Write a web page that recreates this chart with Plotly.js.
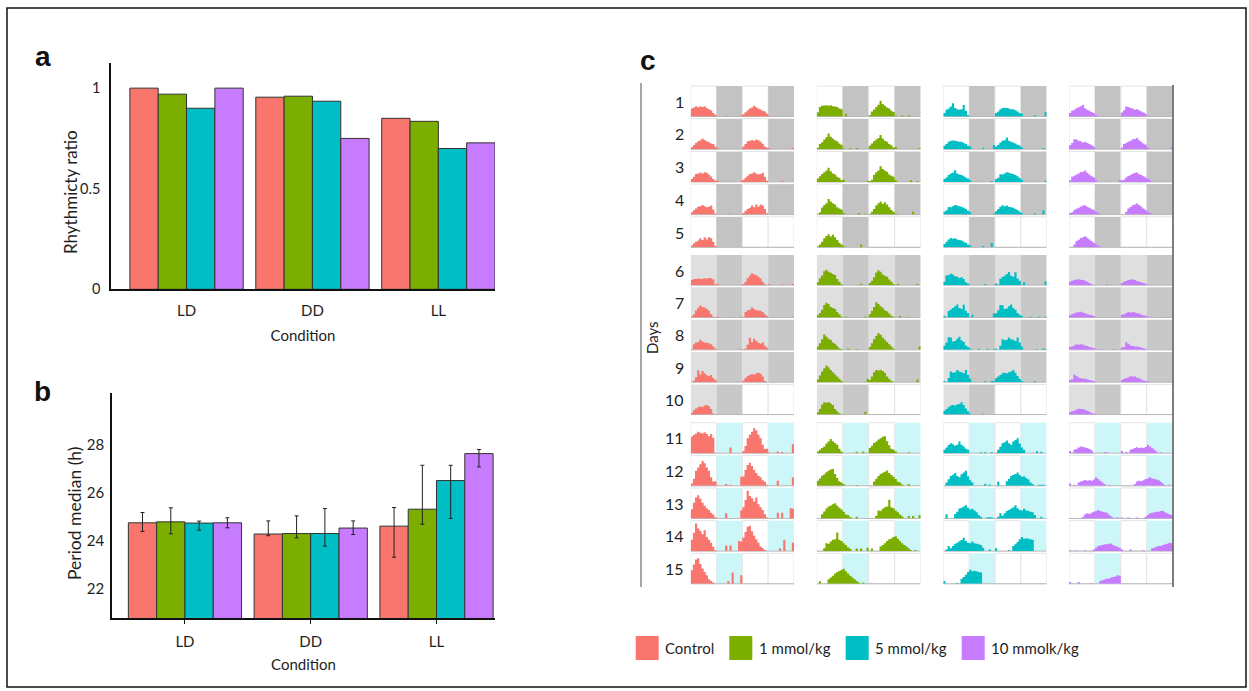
<!DOCTYPE html>
<html><head><meta charset="utf-8">
<script src="https://cdn.plot.ly/plotly-3.0.1.min.js"></script>
<style>html,body{margin:0;padding:0;background:#fff}#chart{width:1249px;height:691px}</style>
</head><body><div id="chart"></div>
<script>
const groups = ['Control','1 mmol/kg','5 mmol/kg','10 mmolk/kg'];
const groupColors = ['#F8766D','#7CAE00','#00BFC4','#C77CFF'];
const conditions = ['LD','DD','LL'];

// panel a: rhythmicity ratio
const rhythmControl = [1.00, 0.955, 0.85];
const rhythm1 = [0.97, 0.96, 0.835];
const rhythm5 = [0.90, 0.935, 0.70];
const rhythm10 = [1.00, 0.75, 0.728];

// panel b: period median (h) with error bars
const periodControl = [24.75, 24.28, 24.61];
const period1 = [24.79, 24.30, 25.32];
const period5 = [24.74, 24.30, 26.52];
const period10 = [24.75, 24.53, 27.65];
const errUpControl = [0.43, 0.55, 0.78];
const errUp1 = [0.59, 0.74, 1.84];
const errUp5 = [0.08, 1.05, 0.64];
const errUp10 = [0.21, 0.30, 0.17];
const errDownControl = [0.36, 0.07, 1.30];
const errDown1 = [0.50, 0.18, 0.63];
const errDown5 = [0.30, 0.53, 1.59];
const errDown10 = [0.21, 0.27, 0.56];

// panel c: hourly activity per day (days 1-5 LD, 6-10 DD, 11-15 LL)
const dayNumbers = [1,2,3,4,5,6,7,8,9,10,11,12,13,14,15];
const blockConditions = ['LD','DD','LL'];
const actControl = [
 [2.8,3.2,3.6,3.3,3.5,3.4,3.6,3.0,2.6,2.2,1.2,0.6, 0,0,0,0,0.3,0,0,0,0,0,0,0.4],
 [0.8,1.5,2.2,2.8,3.2,3.8,3.3,2.8,2.5,2.0,1.8,1.0, 0.3,0,0,0,0,0,0,0,0,0,0,0],
 [1.0,1.8,2.8,3.0,3.3,3.0,3.4,3.2,2.6,1.9,1.0,0.5, 0.4,0,0,0,0,0,0,0,0,0,0,0.4],
 [0.8,1.5,2.2,2.8,3.0,3.4,3.0,2.6,2.8,3.2,1.8,0.4, 0,0,0,0,0,0,0.4,0,0,0,0,0],
 [0.6,1.4,2.0,2.4,3.2,2.6,3.6,2.8,3.6,3.2,2.0,0.5, 0,0,0,0,0,0,0,0,0,0,0,0],
 [1.8,2.2,2.2,2.4,2.3,2.2,2.5,2.3,2.6,2.5,2.0,0.2, 0.6,0,0,0,0,0,0,0,0,0,0,0],
 [0.4,1.2,2.5,3.5,4.3,3.8,3.6,3.0,2.4,1.2,0.3,0, 0.4,0,0,0,0,0,0.3,0,0,0,0,0.4],
 [0.2,2.0,2.6,2.8,3.6,3.0,2.6,2.5,2.4,2.0,1.2,0.5, 0,0,0,0,0,0,0,0,0,0,0,0.3],
 [0,0.5,1.8,4.3,2.8,4.0,3.2,2.5,2.2,2.6,1.5,0.8, 0,0,0,0,0,0,0,0,0,0,0,0],
 [0.6,1.5,2.2,2.6,2.9,2.7,3.2,3.4,3.0,2.0,0.4,0, 0,0,0,0,0,0,0,0,0,0,0,0],
 [5.8,6.5,7.0,7.6,7.2,7.0,7.4,6.8,6.0,6.8,5.5,0, 0,0,0,0,0,0,2.0,0,0,0,0,0],
 [0.8,2.5,5.3,6.5,7.6,8.8,8.0,6.5,5.3,3.0,1.5,1.6, 0.2,0,0,0,0.6,0,0.4,0,0,0,0,3.2],
 [3.3,5.6,7.4,8.2,7.0,5.6,4.5,3.6,3.0,2.0,1.4,0.4, 0,0,0,0,1.8,0,0,0,0,0,0,2.9],
 [4.0,6.5,9.8,8.0,7.2,6.0,7.4,5.0,4.0,3.0,1.5,0.3, 0,0,0,0,2.0,0,2.0,0,0,0,3.6,3.4],
 [4.8,6.8,8.6,9.0,7.0,5.4,4.2,3.0,1.6,1.0,0.4,0, 0,0,0,0,0,1.0,0,4.0,0,0,0,3.0]
];
const act1 = [
 [1.5,3.4,3.8,3.9,4.0,3.8,4.0,3.6,3.5,3.4,2.8,2.6, 0,1.0,0,0,0,0,0,0,0,0,0,0],
 [0.5,1.8,2.5,3.4,4.2,5.6,4.4,3.8,3.2,2.8,2.0,1.6, 0.3,0,0,0.4,0,0,0.4,0,0,0,0,0],
 [1.2,2.0,2.8,3.4,4.0,5.0,3.8,3.0,2.6,1.8,1.4,0.6, 0.8,0,0,0,0,0,0,0,0,0,0,0.4],
 [0.3,0.8,2.5,3.4,4.0,5.5,4.6,4.0,3.6,2.6,2.2,1.8, 0.6,0,0,0,0,0,0,0.6,0,0,0.3,0],
 [0.3,1.0,2.0,3.2,4.0,4.6,3.8,4.4,3.6,2.6,1.6,1.0, 0.4,0,0,0,0,0,0,0,1.0,0,0,0],
 [1.0,2.5,3.5,5.0,5.5,4.8,4.4,4.0,3.6,2.2,1.2,0.3, 0,0,0,0,0,0,0,0,0.5,0,0,0],
 [0.8,1.6,2.8,4.5,5.3,4.8,3.8,3.4,3.0,2.0,1.2,0.4, 0,0.4,0,0,0,0,0,0,0,0,0.4,0],
 [1.2,2.4,3.8,5.5,4.8,4.0,3.5,2.6,2.2,1.4,0.6,0.3, 0,0,0.5,0,0,0,0.3,0,0,0,0,0],
 [1.0,2.4,3.8,5.0,6.0,5.4,4.4,3.6,2.8,2.0,1.2,0.5, 0,0,0,0,0,0,0,0,0,0,0,1.2],
 [0.8,2.0,3.6,4.4,4.2,4.5,4.0,3.4,2.0,1.2,0.5,0.2, 0,0,0,0,0,0,0,0,0,0,1.0,0],
 [0.6,1.2,1.8,2.4,3.4,4.1,5.0,4.2,3.6,3.0,1.6,0.6, 0,0,0,0,0,0,0.5,0,0,0.6,0,0],
 [1.8,2.6,3.6,4.1,4.8,5.3,5.8,6.0,4.2,2.8,1.6,1.2, 0.6,0,0,0,0,0,0.3,0,0,0,0,0],
 [0,0,1.5,2.5,3.5,4.2,4.6,5.0,5.4,4.5,3.8,3.2, 2.4,1.4,1.2,0.5,0,0,0.6,0,0,0,0,0],
 [0,0,0,1.0,2.8,2.6,3.4,4.0,4.2,6.6,4.0,3.6, 2.8,2.2,1.4,0.8,0,0,0.9,0,0.9,0,0,1.2],
 [0,0.9,0,0,0,1.6,2.2,2.8,3.6,4.2,4.5,5.0, 5.3,4.4,3.6,2.8,2.2,1.6,1.0,0.4,0,0.4,0,0]
];
const act5 = [
 [1.2,2.4,2.8,3.5,4.7,3.0,2.6,2.4,2.6,4.1,2.0,0.5, 0,0,0,0,0,0,0,0,0,0,0,0],
 [1.2,1.8,2.6,3.0,3.1,3.0,2.8,2.6,2.6,2.2,1.8,1.2, 1.0,0,0,0,0,0,0.5,0,0,0,0,1.5],
 [1.0,1.6,2.4,3.0,3.2,4.1,3.0,2.6,2.4,2.0,1.6,1.2, 0.6,0,0,0,0,0,0,0,0,0,0.3,0],
 [1.0,1.5,2.7,2.6,3.0,3.4,3.2,3.0,2.8,2.4,2.0,1.4, 0.8,0,0,0,0,0,0,0,0,0,0,0.4],
 [1.2,2.0,2.8,3.3,3.0,3.2,2.8,2.6,2.4,2.0,1.6,1.0, 0.6,0,0,0,0,0,0.5,0,0,0,1.5,0],
 [1.2,3.5,3.6,4.1,3.8,3.2,3.0,2.6,2.8,2.2,1.0,0.6, 0,0,0,0,0,0,0,0.3,0,0,0,0],
 [0.6,0.2,2.3,2.9,3.4,4.0,4.7,3.4,3.0,4.6,2.4,1.6, 0,1.0,0,0,0,0,0,0,0,0,0,1.4],
 [1.5,2.6,4.5,4.4,3.0,3.2,4.0,4.7,3.4,2.8,1.6,1.0, 0.5,0,0,0,0.4,0,0,0,0.4,0,0,0.4],
 [0.4,0,1.5,3.8,3.4,3.6,4.4,3.8,3.6,3.2,4.4,2.6, 1.2,0,0,0,0,0,0,0.3,0,0,0.5,0.3],
 [1.4,2.0,2.6,3.2,3.4,3.2,3.6,3.8,4.4,3.4,2.2,1.2, 0.4,0,0,0,0,0,0.3,0,0,0,0,0],
 [1.2,2.0,2.9,3.5,3.2,2.6,3.0,4.1,3.0,2.4,1.6,1.2, 0,0,0,0,0,0.3,0,0.3,0,0,0.3,0],
 [0,1.2,2.3,3.5,3.9,4.5,3.5,3.0,4.1,4.7,5.3,3.4, 2.0,1.2,0,0,0,0,0,0.7,0,0.5,0,0],
 [0,1.5,0,0,0,1.6,2.4,3.5,3.8,4.2,4.7,3.8, 3.2,3.4,2.8,2.2,1.2,0.6,0,0,0.4,0.4,0.4,0],
 [0,0.6,1.8,1.0,1.8,2.6,3.0,3.5,3.9,4.7,3.6,3.0, 2.8,3.4,2.8,2.6,2.4,2.2,1.2,0,0,0.6,0,0],
 [1.0,0,0,0,0,0,0.3,0,1.8,2.4,3.2,4.2, 5.0,4.4,4.6,4.4,4.2,4.0,0,0,0,0,0,0]
];
const act10 = [
 [1.2,2.0,2.4,2.9,3.3,3.6,4.1,2.9,2.4,2.0,1.6,1.2, 0.6,0.3,0,0,0,0,0,0,0,0,0,0],
 [1.4,2.2,3.5,3.4,3.0,2.8,2.4,2.6,2.2,1.8,1.4,1.0, 0,0,0,0,0,0,0,0,0,0,0,0],
 [0.6,1.8,2.2,2.6,3.0,3.5,3.6,4.0,3.2,2.6,2.0,1.6, 0.6,0,0,0,0,0,0,0,0,0,0,0.8],
 [0.6,0.8,1.6,2.1,2.4,2.9,3.2,3.3,2.8,2.4,2.0,1.6, 1.0,0.6,0,0,0,0,0,0,0,0,0,0],
 [0,0,1.0,2.2,2.7,3.3,3.6,3.9,3.4,2.8,2.2,1.6, 1.0,0.6,0.3,0,0,0,0,0,0,0,0,0],
 [1.2,1.6,1.8,2.0,2.1,1.9,1.8,1.6,1.2,0.8,0.4,0, 0,0,0,0,0,0.3,0,0,0,0,0,0],
 [0.8,1.2,1.5,1.8,1.9,2.1,1.8,1.5,1.2,1.0,0.8,0.5, 0,0,0,0,0,0,0,0,0,0,0,0],
 [1.0,1.2,1.6,2.0,1.8,2.0,1.8,1.5,1.4,1.0,0.8,0.6, 0.4,0,0.3,0,0,0,0,0,0.3,0,0,0],
 [0.8,1.0,2.7,2.2,1.6,1.4,1.2,1.2,1.0,0.8,0.6,0.4, 0,0,0,0,0,0,0,0,0,0,0,0],
 [0.8,1.2,1.4,1.8,2.1,2.0,2.0,1.6,1.4,1.0,0.6,0.4, 0.3,0,0,0,0,0,0,0,0,0,0,0],
 [0.8,0,1.2,1.5,2.0,2.4,2.2,2.0,1.8,1.5,1.0,0, 0,0,0,0,0.3,0.3,0,0,0,0,0,0],
 [0.8,0,0.4,0,1.2,1.5,1.8,2.1,1.8,2.0,1.8,2.2, 3.0,2.4,1.8,1.2,0.6,0,0.3,0,0,0,0,0],
 [0,0,0,0,0,0,0.6,1.5,1.8,1.6,2.0,2.4, 2.6,3.0,2.6,2.4,2.2,2.0,1.4,0.8,0.3,0,0.4,0],
 [0.3,0,0,0.3,0,0,0,0.3,0,0,0,0.6, 1.2,1.8,2.0,2.2,2.4,2.4,2.6,2.7,2.2,1.8,1.5,1.2],
 [0.6,0,0,0,0.6,0,0,0,0,0,0.3,0, 0,0,1.0,1.2,1.5,1.8,1.8,2.2,2.4,2.6,3.0,2.8]
];

const rhythmAll = [rhythmControl, rhythm1, rhythm5, rhythm10];
const periodAll = [periodControl, period1, period5, period10];
const errUpAll = [errUpControl, errUp1, errUp5, errUp10];
const errDownAll = [errDownControl, errDown1, errDown5, errDown10];
const actAll = [actControl, act1, act5, act10];

// ---- geometry / styles ----
const W = 1249, H = 691;
const P = v => v / W, Q = v => 1 - v / H;
const FONT = 'Lato, "Open Sans", sans-serif';
const TXT = '#1e1e1e';
const lightFill = {LD:'#ffffff', DD:'#dfdfdf', LL:'#ffffff'};
const darkFill = {LD:'#c3c3c3', DD:'#c8c8c8', LL:'#cdf6f9'};
const groupXpx = [[690.7,794],[816.7,920.7],[943.3,1046.7],[1069,1172.7]];
const blockTop = [86, 255, 422.7], blockPitch = [32.7, 32.35, 32.65], rowGap = 2.2;

const traces = [];
const layout = {
  width: W, height: H, margin: {l:0,r:0,t:0,b:0},
  paper_bgcolor:'#ffffff', plot_bgcolor:'rgba(0,0,0,0)',
  showlegend:false, hovermode:false,
  barmode:'group', bargap:0.1, bargroupgap:0,
  font:{family:FONT, size:15, color:TXT},
  shapes:[], annotations:[]
};

// panel a
groups.forEach((g,i)=>{
  traces.push({type:'bar', x:conditions, y:rhythmAll[i], name:g, xaxis:'x', yaxis:'y',
    marker:{color:groupColors[i], line:{color:'#333', width:1}}});
});
// panel b
groups.forEach((g,i)=>{
  traces.push({type:'bar', x:conditions, y:periodAll[i], name:g, xaxis:'x2', yaxis:'y2',
    marker:{color:groupColors[i], line:{color:'#333', width:1}},
    error_y:{type:'data', symmetric:false, array:errUpAll[i], arrayminus:errDownAll[i],
      color:'#222', thickness:1, width:2}});
});

const axBase = {showgrid:false, zeroline:false, showline:true, linecolor:'#111', linewidth:1.8,
  fixedrange:true, tickfont:{family:FONT, size:15, color:TXT}};
layout.xaxis = Object.assign({}, axBase, {domain:[P(111),P(495)], anchor:'y', range:[-0.6,2.45],
  ticks:'outside', ticklen:7, tickcolor:'rgba(0,0,0,0)',
  title:{text:'Condition', font:{family:FONT,size:15,color:TXT}, standoff:12}});
layout.yaxis = Object.assign({}, axBase, {domain:[Q(289.3),Q(63)], anchor:'x', range:[0,1.125],
  tickvals:[0,0.5,1], ticktext:['0','0.5','1'], ticks:'outside', ticklen:6, tickcolor:'rgba(0,0,0,0)',
  tickfont:{family:FONT, size:14.5, color:TXT}});
layout.xaxis2 = Object.assign({}, axBase, {domain:[P(112),P(495)], anchor:'y2', range:[-0.58,2.465],
  ticks:'outside', ticklen:4, tickcolor:'#111', tickwidth:1, ticklabelstandoff:5,
  title:{text:'Condition', font:{family:FONT,size:15,color:TXT}, standoff:10}});
layout.yaxis2 = Object.assign({}, axBase, {domain:[Q(618.3),Q(392.7)], anchor:'x2', range:[20.75,30.2],
  tickvals:[22,24,26,28], ticks:'outside', ticklen:3, tickcolor:'rgba(0,0,0,0)'});

// y titles as rotated text
layout.annotations.push({text:'Rhythmicty ratio', xref:'paper', yref:'paper', x:P(70), y:Q(192),
  xanchor:'center', yanchor:'middle', textangle:-90, showarrow:false, font:{family:FONT,size:17,color:TXT}});
layout.annotations.push({text:'Period median (h)', xref:'paper', yref:'paper', x:P(74), y:Q(514),
  xanchor:'center', yanchor:'middle', textangle:-90, showarrow:false, font:{family:FONT,size:17.5,color:TXT}});

// panel c axes
for (let g=0; g<4; g++) {
  layout['xaxis'+(3+g)] = {domain:[P(groupXpx[g][0]),P(groupXpx[g][1])], range:[0,48], visible:false,
    fixedrange:true, anchor:'y3'};
}
for (let i=0; i<15; i++) {
  const b = Math.floor(i/5), p = i%5;
  const top = blockTop[b] + p*blockPitch[b];
  const bot = top + blockPitch[b] - rowGap;
  layout['yaxis'+(3+i)] = {domain:[Q(bot),Q(top)], range:[0,10.8], visible:false, fixedrange:true, anchor:'x3'};
}

const hourEdges = Array.from({length:24}, (_,h)=>h);
for (let g=0; g<4; g++) {
  const xa = 'x'+(3+g);
  for (let i=0; i<15; i++) {
    const b = Math.floor(i/5), p = i%5;
    const cond = blockConditions[b];
    const ya = 'y'+(3+i);
    const hasRight = p < 4;
    let xs = hourEdges.slice(), ys = actAll[g][i].slice();
    if (hasRight) { xs = xs.concat(hourEdges.map(h=>h+24)); ys = ys.concat(actAll[g][i+1]); }
    xs.push(hasRight ? 48 : 24); ys.push(ys[ys.length-1]);
    // backgrounds
    for (let q=0; q<4; q++) {
      const filled = q < 2 || hasRight;
      const fill = filled ? (q%2===1 ? darkFill[cond] : lightFill[cond]) : '#ffffff';
      const isWhite = fill === '#ffffff';
      layout.shapes.push({type:'rect', layer:'below', xref:xa, yref:ya+' domain',
        x0:q*12, x1:(q+1)*12, y0:0, y1:1, fillcolor:fill,
        line:{color: isWhite ? '#e4e4e4' : fill, width: isWhite ? 1 : 0}});
    }
    layout.shapes.push({type:'line', layer:'below', xref:xa, yref:ya+' domain',
      x0:0, x1:48, y0:0, y1:0, line:{color:'#b8b8b8', width:1}});
    traces.push({type:'scatter', mode:'lines', x:xs, y:ys, xaxis:xa, yaxis:ya,
      line:{shape:'hv', width:0, color:groupColors[g]}, fill:'tozeroy', fillcolor:groupColors[g],
      hoverinfo:'skip'});
  }
}

// day labels
dayNumbers.forEach((d,i)=>{
  layout.annotations.push({text:String(d), xref:'paper', x:P(686), xanchor:'right',
    yref:'y'+(3+i)+' domain', y:0.5, yanchor:'middle', showarrow:false,
    font:{family:FONT, size:16, color:TXT}});
});
layout.annotations.push({text:'Days', xref:'paper', yref:'paper', x:P(652), y:Q(338), textangle:-90,
  xanchor:'center', yanchor:'middle', showarrow:false, font:{family:FONT, size:15, color:TXT}});

// panel letters
[['a',43,56],['b',43,391],['c',648,60]].forEach(([t,x,y])=>{
  layout.annotations.push({text:'<b>'+t+'</b>', xref:'paper', yref:'paper', x:P(x), y:Q(y),
    xanchor:'center', yanchor:'middle',
    showarrow:false, font:{family:'"Liberation Sans", Arial, sans-serif', size:28, color:'#111'}});
});

// panel c side lines
layout.shapes.push({type:'line', xref:'paper', yref:'paper', x0:P(641), x1:P(641), y0:Q(83), y1:Q(587),
  line:{color:'#8a8a8a', width:1.5}});
layout.shapes.push({type:'line', xref:'paper', yref:'paper', x0:P(1173), x1:P(1173), y0:Q(85), y1:Q(587),
  line:{color:'#555', width:1.5}});

// legend
const legSq = [635.7, 729.3, 845.7, 961.7];
groups.forEach((g,i)=>{
  layout.shapes.push({type:'rect', xref:'paper', yref:'paper', x0:P(legSq[i]), x1:P(legSq[i]+23),
    y0:Q(660), y1:Q(636), fillcolor:groupColors[i], line:{width:0}});
  layout.annotations.push({text:g, xref:'paper', yref:'paper', x:P(legSq[i]+27.5), xanchor:'left',
    y:Q(648), yanchor:'middle', showarrow:false, font:{family:FONT, size:15, color:TXT}});
});

// figure frame
layout.shapes.push({type:'rect', xref:'paper', yref:'paper', x0:P(7), x1:P(1246), y0:Q(687), y1:Q(8),
  line:{color:'#111', width:1.5}, fillcolor:'rgba(0,0,0,0)'});

Plotly.newPlot('chart', traces, layout, {staticPlot:true, displayModeBar:false});
</script>
</body></html>
